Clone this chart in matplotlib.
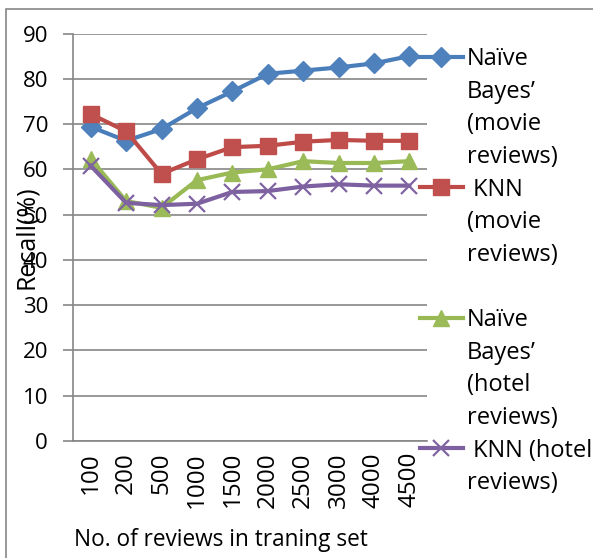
import numpy as np
import matplotlib.pyplot as plt
from matplotlib.lines import Line2D
from matplotlib.patches import Rectangle

plt.rcParams['font.family'] = ['Open Sans', 'DejaVu Sans']

sizes = ['100', '200', '500', '1000', '1500', '2000', '2500', '3000', '4000', '4500']
nb_movie = [69.4, 66.3, 68.9, 73.5, 77.2, 81.1, 81.8, 82.5, 83.4, 85.0]
knn_movie = [72.2, 68.4, 59.0, 62.2, 64.9, 65.2, 66.1, 66.5, 66.3, 66.3]
nb_hotel = [62.3, 53.0, 51.5, 57.6, 59.3, 60.0, 61.8, 61.4, 61.4, 61.8]
knn_hotel = [60.8, 52.6, 52.1, 52.4, 55.0, 55.2, 56.2, 56.7, 56.4, 56.4]

W, H = 593, 558
fig = plt.figure(figsize=(W / 100, H / 100), dpi=100)
ax = fig.add_axes([73 / W, 1 - 441 / H, (427 - 73) / W, (441 - 33.5) / H])

x = np.arange(len(sizes))
series = [
    (nb_movie, '#4A7EBB', '#4F81BD', 'D', 10, 1),
    (knn_movie, '#BE4B48', '#C0504D', 's', 12, 1),
    (nb_hotel, '#98B954', '#9BBB59', '^', 12, 1),
    (knn_hotel, '#7D60A0', '#8064A2', 'x', 11, 1.6),
]
handles = []
for vals, lc, mc, m, ms, mew in series:
    ln, = ax.plot(x, vals, color=lc, lw=3, marker=m, ms=ms, mfc=mc, mec=mc,
                  mew=mew, clip_on=False, zorder=3)
    handles.append(ln)

ax.set_xlim(-0.5, len(sizes) - 0.5)
ax.set_ylim(0, 90)
ax.set_yticks(range(0, 91, 10))
ax.set_xticks(x)
ax.set_xticklabels(sizes, rotation=90, fontsize=17.5)
ax.tick_params(axis='x', length=0, pad=8)
ax.tick_params(axis='y', length=7, width=1.2, color='#868686', labelsize=16, pad=11)
ax.grid(axis='y', color='#868686', lw=1.2)
ax.set_axisbelow(True)
for s in ['top', 'right']:
    ax.spines[s].set_visible(False)
for s in ['left', 'bottom']:
    ax.spines[s].set_color('#868686')
    ax.spines[s].set_linewidth(1.2)

ax.set_xlabel('No. of reviews in traning set', fontsize=16.3, va='center')
ax.xaxis.set_label_coords((221 - 73) / 354, -(540 - 441) / 407.5)
fig.text(27 / W, 1 - 237 / H, 'Recall(%)', rotation=90, fontsize=18,
         ha='center', va='center')

# legend: one row per text line, series handle on the first line of each entry
blank = Line2D([], [], color='none')
rows = [
    (handles[0], 'Naïve'), (blank, 'Bayes’'), (blank, '(movie'), (blank, 'reviews)'),
    (handles[1], ' KNN'), (blank, '(movie'), (blank, 'reviews)'), (blank, ''),
    (handles[2], 'Naïve'), (blank, 'Bayes’'), (blank, '(hotel'), (blank, 'reviews)'),
    (handles[3], ' KNN (hotel'), (blank, 'reviews)'),
]
fig.legend([r[0] for r in rows], [r[1] for r in rows], loc='upper left',
           bbox_to_anchor=(420 / W, 1 - 47 / H), frameon=False, fontsize=17,
           handlelength=1.82, handletextpad=0.17, labelspacing=0.366,
           borderpad=0, borderaxespad=0)

fig.patches.append(Rectangle((6 / W, -0.1), 1.2, 1 - 9 / H + 0.1,
                             transform=fig.transFigure, fill=False,
                             edgecolor='#868686', lw=1.2))

fig.savefig('out.png', dpi=100)
